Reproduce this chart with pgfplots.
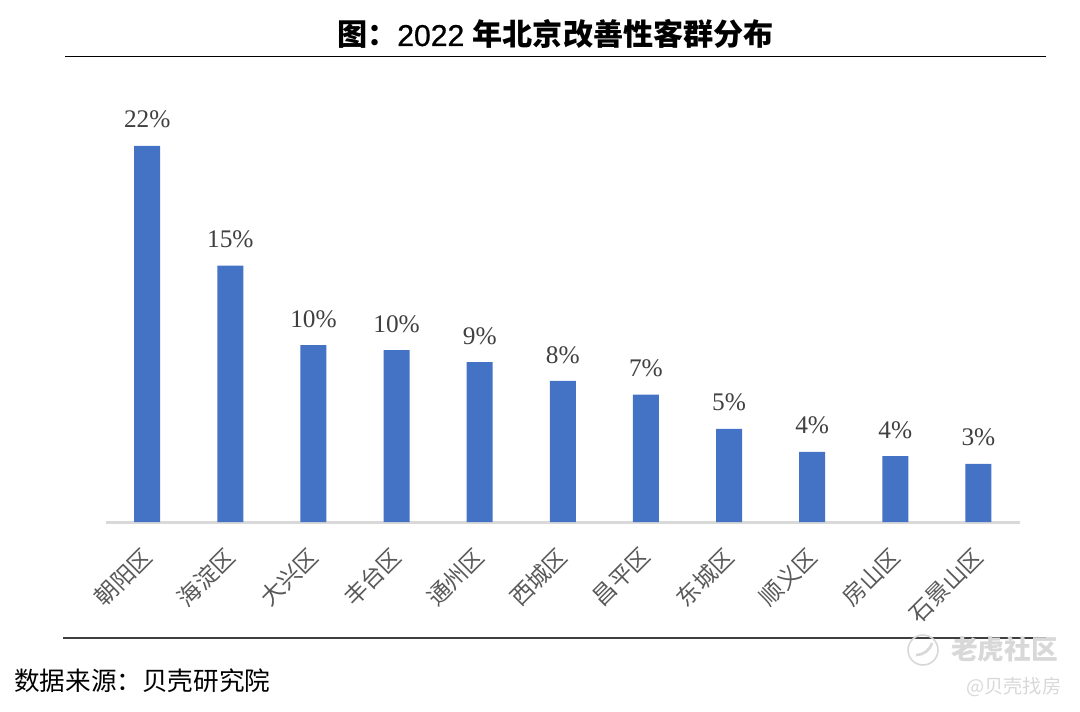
\documentclass[border=0pt]{standalone}
\usepackage{fontspec}
\usepackage{pgfplots}
\usepackage{pgfplotstable}
\pgfplotsset{compat=1.18}
\setmainfont{Liberation Serif}
\newfontfamily\cjk{Noto Sans CJK SC}
\newfontfamily\arial[FakeBold=0.8]{Liberation Sans}
\definecolor{barblue}{HTML}{4472C4}
\definecolor{axisgrey}{HTML}{D9D9D9}
\definecolor{ticktext}{HTML}{595959}
\definecolor{valtext}{HTML}{404040}
\definecolor{wmgrey}{HTML}{D8D8D8}

\pgfplotstableread{
x y label
0 22.0 22
1 15.0 15
2 10.35 10
3 10.05 10
4 9.35 9
5 8.25 8
6 7.45 7
7 5.45 5
8 4.1 4
9 3.85 4
10 3.4 3
}\districts

\begin{document}
\begin{tikzpicture}
\useasboundingbox (0pt,0pt) rectangle (810pt,-534pt);
\begin{axis}[
    at={(79.5pt,-391.5pt)},
    anchor=south west,
    scale only axis,
    width=685.5pt,
    height=320.6pt,
    ybar,
    bar width=19.5pt,
    xmin=-0.496, xmax=10.5,
    ymin=0, ymax=25,
    axis y line=none,
    axis x line=bottom,
    x axis line style={-, color=axisgrey, line width=2.25pt},
    xtick=data,
    major tick length=0pt,
    xticklabels={朝阳区,海淀区,大兴区,丰台区,通州区,西城区,昌平区,东城区,顺义区,房山区,石景山区},
    xticklabel style={
        font=\cjk\fontsize{17.3}{17.3}\selectfont,
        text=ticktext,
        rotate=45,
        anchor=north east,
        inner sep=0pt,
        yshift=-8.3pt, xshift=-16pt
    },
    point meta=explicit symbolic,
    nodes near coords={\pgfplotspointmeta\%},
    nodes near coords style={
        font=\fontsize{19}{19}\selectfont,
        text=valtext,
        anchor=south,
        inner sep=0pt,
        yshift=13pt
    },
    clip=false,
]
\addplot[fill=barblue, draw=none] table[x=x, y=y, meta=label] {\districts};
\end{axis}
\begin{scope}[x=0.75pt, y=-0.75pt]
\draw[black, line width=0.75pt] (65,57) -- (1046,57);
\draw[black!75, line width=0.9pt] (63,638) -- (1046,638);
\node[anchor=base, inner sep=0pt, font=\fontsize{22.6}{24}\selectfont] at (555.5,46)
    {{\cjk\bfseries 图：}{\arial 2022 }{\cjk\bfseries 年北京改善性客群分布}};
\node[anchor=base west, inner sep=0pt, font=\cjk\fontsize{19.2}{20}\selectfont] at (14,690)
    {数据来源：贝壳研究院};
\draw[wmgrey, line width=1.2pt] (923,650) circle [radius=15];
\draw[wmgrey, line width=2pt] (916,655) to[bend right=35] (932,643);
\node[anchor=base west, inner sep=0pt, text=wmgrey, font=\cjk\bfseries\fontsize{20}{20}\selectfont] at (951,659)
    {老虎社区};
\node[anchor=base west, inner sep=0pt, text=wmgrey, font=\cjk\fontsize{14.4}{15}\selectfont] at (966,693)
    {@贝壳找房};
\end{scope}
\end{tikzpicture}
\end{document}
